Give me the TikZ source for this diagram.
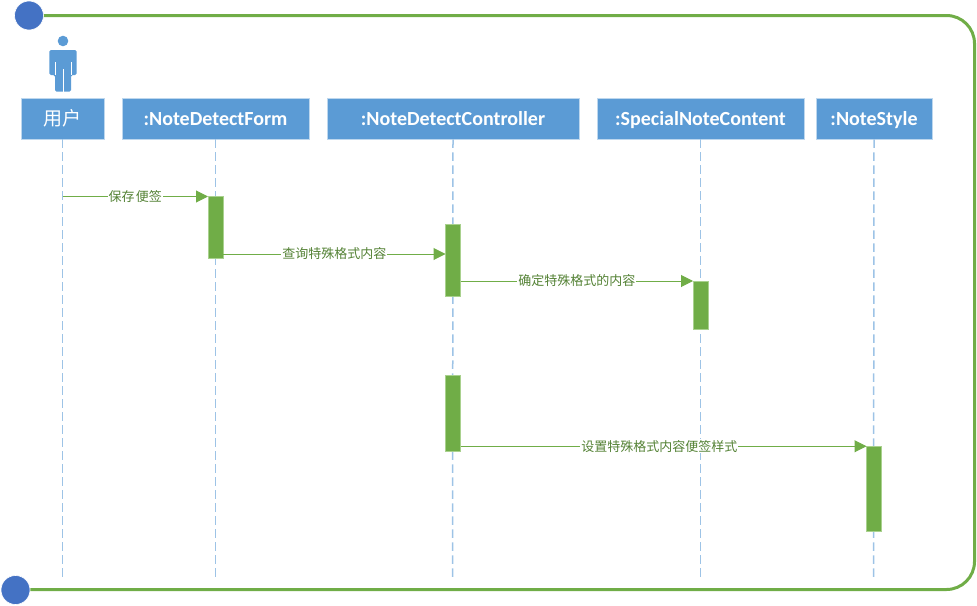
\documentclass[tikz,border=0pt]{standalone}
\usepackage{fontspec}
\setmainfont{Carlito}
\newfontfamily\cjkfont{Noto Sans CJK SC}
\usetikzlibrary{arrows.meta, positioning}

\definecolor{boxblue}{HTML}{5B9BD5}
\definecolor{boxedge}{HTML}{BDD7EE}
\definecolor{lifeblue}{HTML}{9DC3E6}
\definecolor{framegreen}{HTML}{70AD47}
\definecolor{actedge}{HTML}{A9D18E}
\definecolor{labelgreen}{HTML}{548235}
\definecolor{dotblue}{HTML}{4472C4}

\begin{document}
\begin{tikzpicture}[
  x=1pt, y=-1pt,
  objbox/.style={
    rectangle, draw=boxedge, line width=0.8pt, fill=boxblue, text=white,
    minimum height=41pt, inner sep=0pt, text height=15pt, text depth=2pt,
    font=\fontsize{20}{22}\selectfont\bfseries
  },
  actbar/.style={
    rectangle, draw=actedge, line width=0.6pt, fill=framegreen,
    minimum width=15pt, inner sep=0pt, outer sep=0pt
  },
  dotend/.style={
    circle, draw=white, line width=0.6pt, fill=dotblue,
    minimum size=29pt, inner sep=0pt
  },
  lifeln/.style={draw=lifeblue, line width=1.5pt, dash pattern=on 8.5pt off 4.5pt},
  framel/.style={draw=framegreen, line width=3pt},
  msg/.style={-{Triangle[length=12pt, width=12pt]}, draw=framegreen, line width=1pt},
  lbl/.style={font=\fontsize{13}{15}\cjkfont, text=labelgreen, fill=white,
              inner sep=1pt, midway},
]
\useasboundingbox (0,0) rectangle (977,605);

%% Frame
\node[dotend] (topdot) at (29,15.5) {};
\node[dotend] (botdot) at (15.5,590) {};
\coordinate (corner1) at (974.5,15.5);
\coordinate (corner2) at (974.5,589.5);
\draw[framel, rounded corners=28pt] (topdot.east |- corner1) -- (corner1) -- (corner2)
  -- (botdot.east |- corner2);

%% Actor figure
\fill[boxblue] (63,41) circle (5.3);
\fill[boxblue, rounded corners=1.5pt] (49.3,75) -- (49.3,50) -- (76.7,50) -- (76.7,75)
  -- (71,75) -- (71,91.7) -- (55,91.7) -- (55,75) -- cycle;
\draw[white, line width=0.6pt] (63,69) -- (63,91.7) (55,62) -- (55,75) (71,62) -- (71,75);

%% Objects
\node[objbox, minimum width=83pt] (user) at (62.5,118.5) {\fontsize{19}{22}\cjkfont\mdseries 用户};
\node[objbox, minimum width=187pt] (form) at (215.5,118.5) {:NoteDetectForm};
\node[objbox, minimum width=252pt] (ctrl) at (453,118.5) {:NoteDetectController};
\node[objbox, minimum width=207pt] (spec) at (700.5,118.5) {:SpecialNoteContent};
\node[objbox, minimum width=116pt] (style) at (874,118.5) {:NoteStyle};

%% Lifelines
\coordinate (userend) at (62.5,578);
\coordinate (formend) at (215.5,578);
\coordinate (ctrlend) at (452.5,578);
\coordinate (specend) at (700.5,578);
\coordinate (styleend) at (873.5,578);
\draw[lifeln] (user.south) -- (userend);
\draw[lifeln] (form.south) -- (formend);
\draw[lifeln] (ctrl.south) -- (ctrlend);
\draw[lifeln] (spec.south) -- (specend);
\draw[lifeln] (style.south) -- (styleend);

%% Activation bars
\node[actbar, minimum height=62pt] (formact) at (215.5,227) {};
\node[actbar, minimum height=72pt] (ctrlact) at (453,260) {};
\node[actbar, minimum height=48pt] (specact) at (700.5,305) {};
\node[actbar, minimum height=76.5pt] (ctrlact2) at (453,413.5) {};
\node[actbar, minimum height=85.5pt] (styleact) at (874,489) {};

%% Messages
\coordinate (usermsg) at (62.5,196.5);
\coordinate (querymsg) at (223,254);
\draw[msg] (usermsg) -- node[lbl]{保存\hspace{1.5pt}便签} (formact.west |- usermsg);
\draw[msg] (formact.east |- querymsg) -- node[lbl]{查询特殊格式内容} (ctrlact.west |- querymsg);
\draw[msg] (ctrlact.east |- specact.north) -- node[lbl]{确定特殊格式的内容} (specact.north west);
\draw[msg] (ctrlact2.east |- styleact.north) -- node[lbl, pos=0.49]{设置特殊格式内容便签样式} (styleact.north west);

\end{tikzpicture}
\end{document}
